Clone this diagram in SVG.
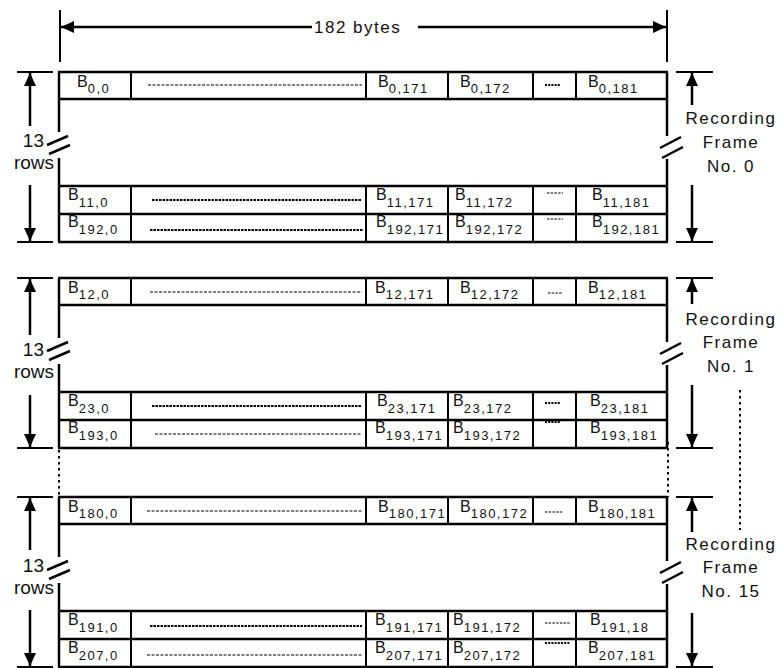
<svg xmlns="http://www.w3.org/2000/svg" width="780" height="668" viewBox="0 0 780 668">
<style>
  text { font-family: "Liberation Sans", Arial, sans-serif; fill: #111; }
  .c { font-size: 16px; }
  .s { font-size: 13px; letter-spacing: 1.5px; }
  .lbl { font-size: 17px; letter-spacing: 1.5px; text-anchor: middle; }
  .lft { font-size: 19px; text-anchor: end; }
  .big { font-size: 17px; letter-spacing: 1.5px; }
  .h { stroke-width: 2.5; }
  .v { stroke-width: 2.5; }
  .d { stroke-width: 2; }
  .brk { stroke-width: 2.5; }
  .fillthin { stroke: #000; stroke-width: 1; stroke-dasharray: 3 1.5; }
  .fillbold { stroke: #000; stroke-width: 1.8; stroke-dasharray: 2.5 1; }
  .dash { stroke: #000; stroke-width: 1; stroke-dasharray: 2.5 1.2; }
  .dots { stroke: #000; stroke-width: 2; stroke-dasharray: 2 1.2; }
  .conn line { stroke: #000; }
  .shaft { stroke-width: 2.5; }
  .tick { stroke-width: 2; }
  .dotv { stroke: #000; stroke-width: 2; stroke-dasharray: 2.5 3.5; fill: none; }
</style>
<defs>
  <marker id="ah" viewBox="0 0 13 12" refX="13" refY="6" markerWidth="13" markerHeight="12" markerUnits="userSpaceOnUse" orient="auto">
    <path d="M0,0 L13,6 L0,12 Z" fill="#000"/>
  </marker>
  <g id="grid" stroke="#000" fill="none">
    <line stroke-width="2.5" x1="58" y1="0" x2="668" y2="0"/>
    <line stroke-width="2.5" x1="58" y1="27" x2="668" y2="27"/>
    <line stroke-width="2.5" x1="58" y1="114" x2="668" y2="114"/>
    <line stroke-width="2.5" x1="58" y1="142" x2="668" y2="142"/>
    <line stroke-width="2.5" x1="58" y1="170" x2="668" y2="170"/>
    <line stroke-width="2.5" x1="59" y1="0" x2="59" y2="60"/>
    <line stroke-width="2.5" x1="59" y1="86" x2="59" y2="170"/>
    <line stroke-width="2.5" x1="667" y1="0" x2="667" y2="64"/>
    <line stroke-width="2.5" x1="667" y1="87" x2="667" y2="170"/>
    <line stroke-width="2.5" x1="47" y1="73" x2="68" y2="64"/>
    <line stroke-width="2.5" x1="49" y1="82" x2="70" y2="73"/>
    <line stroke-width="2.5" x1="660" y1="76" x2="681" y2="65"/>
    <line stroke-width="2.5" x1="662" y1="86" x2="683" y2="75"/>
    <line stroke-width="2" x1="131" y1="0" x2="131" y2="27"/>
    <line stroke-width="2" x1="366" y1="0" x2="366" y2="27"/>
    <line stroke-width="2" x1="448" y1="0" x2="448" y2="27"/>
    <line stroke-width="2" x1="533" y1="0" x2="533" y2="27"/>
    <line stroke-width="2" x1="576" y1="0" x2="576" y2="27"/>
    <line stroke-width="2" x1="131" y1="114" x2="131" y2="170"/>
    <line stroke-width="2" x1="366" y1="114" x2="366" y2="170"/>
    <line stroke-width="2" x1="448" y1="114" x2="448" y2="170"/>
    <line stroke-width="2" x1="533" y1="114" x2="533" y2="170"/>
    <line stroke-width="2" x1="576" y1="114" x2="576" y2="170"/>
  </g>
</defs>

<!-- top dimension -->
<g id="width-dimension" class="conn">
  <line class="tick" x1="60" y1="10" x2="60" y2="62"/>
  <line class="tick" x1="667" y1="10" x2="667" y2="62"/>
  <line class="shaft" x1="312" y1="27" x2="61" y2="27" marker-end="url(#ah)"/>
  <line class="shaft" x1="418" y1="27" x2="666" y2="27" marker-end="url(#ah)"/>
  <text class="big" x="314" y="33">182 bytes</text>
</g>

<!-- Frame 0 -->
<g id="frame0" class="frame" transform="translate(0,72)">
  <use href="#grid"/>
  <line class="fillthin" x1="148" y1="13" x2="362" y2="13"/>
  <line class="fillbold" x1="152" y1="128" x2="362" y2="128"/>
  <line class="fillbold" x1="150" y1="158" x2="363" y2="158"/>
  <line class="dots" x1="545" y1="13" x2="560" y2="13"/>
  <line class="dash" x1="547" y1="121" x2="563" y2="121"/>
  <line class="dash" x1="547" y1="147" x2="563" y2="147"/>
  <text class="c" x="77" y="15">B<tspan class="s" dy="6">0,0</tspan></text>
  <text class="c" x="378" y="15">B<tspan class="s" dy="6">0,171</tspan></text>
  <text class="c" x="460" y="15">B<tspan class="s" dy="6">0,172</tspan></text>
  <text class="c" x="588" y="15">B<tspan class="s" dy="6">0,181</tspan></text>
  <text class="c" x="68" y="128">B<tspan class="s" dy="7">11,0</tspan></text>
  <text class="c" x="376" y="128">B<tspan class="s" dy="7">11,171</tspan></text>
  <text class="c" x="455" y="128">B<tspan class="s" dy="7">11,172</tspan></text>
  <text class="c" x="592" y="128">B<tspan class="s" dy="7">11,181</tspan></text>
  <text class="c" x="68" y="155">B<tspan class="s" dy="7">192,0</tspan></text>
  <text class="c" x="376" y="155">B<tspan class="s" dy="7">192,171</tspan></text>
  <text class="c" x="455" y="155">B<tspan class="s" dy="7">192,172</tspan></text>
  <text class="c" x="592" y="155">B<tspan class="s" dy="7">192,181</tspan></text>
  <text class="lft" x="44" y="75">13</text>
  <text class="lft" x="54" y="97">rows</text>
  <text class="lbl" x="731" y="52">Recording</text>
  <text class="lbl" x="731" y="76">Frame</text>
  <text class="lbl" x="731" y="100">No. 0</text>
</g>

<!-- Frame 1 -->
<g id="frame1" class="frame" transform="translate(0,278)">
  <use href="#grid"/>
  <line class="fillthin" x1="150" y1="14" x2="362" y2="14"/>
  <line class="fillbold" x1="152" y1="128" x2="362" y2="128"/>
  <line class="fillthin" x1="155" y1="156" x2="362" y2="156"/>
  <line class="dash" x1="548" y1="15" x2="563" y2="15"/>
  <line class="dots" x1="545" y1="125" x2="560" y2="125"/>
  <line class="dots" x1="545" y1="144" x2="560" y2="144"/>
  <text class="c" x="68" y="15">B<tspan class="s" dy="6">12,0</tspan></text>
  <text class="c" x="375" y="15">B<tspan class="s" dy="6">12,171</tspan></text>
  <text class="c" x="460" y="15">B<tspan class="s" dy="6">12,172</tspan></text>
  <text class="c" x="588" y="15">B<tspan class="s" dy="6">12,181</tspan></text>
  <text class="c" x="68" y="128">B<tspan class="s" dy="7">23,0</tspan></text>
  <text class="c" x="377" y="128">B<tspan class="s" dy="7">23,171</tspan></text>
  <text class="c" x="453" y="128">B<tspan class="s" dy="7">23,172</tspan></text>
  <text class="c" x="590" y="128">B<tspan class="s" dy="7">23,181</tspan></text>
  <text class="c" x="68" y="155">B<tspan class="s" dy="7">193,0</tspan></text>
  <text class="c" x="375" y="155">B<tspan class="s" dy="7">193,171</tspan></text>
  <text class="c" x="453" y="155">B<tspan class="s" dy="7">193,172</tspan></text>
  <text class="c" x="590" y="155">B<tspan class="s" dy="7">193,181</tspan></text>
  <text class="lft" x="44" y="78">13</text>
  <text class="lft" x="54" y="100">rows</text>
  <text class="lbl" x="731" y="47">Recording</text>
  <text class="lbl" x="731" y="70">Frame</text>
  <text class="lbl" x="731" y="94">No. 1</text>
</g>

<!-- Frame 15 -->
<g id="frame15" class="frame" transform="translate(0,497)">
  <use href="#grid"/>
  <line class="fillthin" x1="147" y1="14" x2="362" y2="14"/>
  <line class="fillbold" x1="150" y1="129" x2="362" y2="129"/>
  <line class="fillthin" x1="147" y1="158" x2="362" y2="158"/>
  <line class="dash" x1="545" y1="15" x2="563" y2="15"/>
  <line class="dash" x1="545" y1="126" x2="570" y2="126"/>
  <line class="dots" x1="545" y1="146" x2="570" y2="146"/>
  <text class="c" x="68" y="15">B<tspan class="s" dy="6">180,0</tspan></text>
  <text class="c" x="378" y="15">B<tspan class="s" dy="6">180,171</tspan></text>
  <text class="c" x="460" y="15">B<tspan class="s" dy="6">180,172</tspan></text>
  <text class="c" x="588" y="15">B<tspan class="s" dy="6">180,181</tspan></text>
  <text class="c" x="68" y="128">B<tspan class="s" dy="7">191,0</tspan></text>
  <text class="c" x="375" y="128">B<tspan class="s" dy="7">191,171</tspan></text>
  <text class="c" x="453" y="128">B<tspan class="s" dy="7">191,172</tspan></text>
  <text class="c" x="590" y="128">B<tspan class="s" dy="7">191,18</tspan></text>
  <text class="c" x="68" y="156">B<tspan class="s" dy="7">207,0</tspan></text>
  <text class="c" x="375" y="156">B<tspan class="s" dy="7">207,171</tspan></text>
  <text class="c" x="453" y="156">B<tspan class="s" dy="7">207,172</tspan></text>
  <text class="c" x="588" y="156">B<tspan class="s" dy="7">207,181</tspan></text>
  <text class="lft" x="44" y="75">13</text>
  <text class="lft" x="54" y="97">rows</text>
  <text class="lbl" x="731" y="53">Recording</text>
  <text class="lbl" x="731" y="76">Frame</text>
  <text class="lbl" x="731" y="100">No. 15</text>
</g>

<!-- connectors: row-count and frame dimension arrows -->
<g id="connectors" class="conn">
  <g transform="translate(0,72)">
    <line class="tick" x1="17" y1="0" x2="53" y2="0"/>
    <line class="tick" x1="17" y1="170" x2="53" y2="170"/>
    <line class="shaft" x1="30" y1="54" x2="30" y2="1" marker-end="url(#ah)"/>
    <line class="shaft" x1="30" y1="113" x2="30" y2="169" marker-end="url(#ah)"/>
    <line class="tick" x1="676" y1="0" x2="713" y2="0"/>
    <line class="tick" x1="676" y1="170" x2="713" y2="170"/>
    <line class="shaft" x1="692" y1="33" x2="692" y2="1" marker-end="url(#ah)"/>
    <line class="shaft" x1="692" y1="113" x2="692" y2="169" marker-end="url(#ah)"/>
  </g>
  <g transform="translate(0,278)">
    <line class="tick" x1="17" y1="0" x2="53" y2="0"/>
    <line class="tick" x1="17" y1="170" x2="53" y2="170"/>
    <line class="shaft" x1="30" y1="57" x2="30" y2="1" marker-end="url(#ah)"/>
    <line class="shaft" x1="30" y1="117" x2="30" y2="169" marker-end="url(#ah)"/>
    <line class="tick" x1="676" y1="0" x2="713" y2="0"/>
    <line class="tick" x1="676" y1="170" x2="713" y2="170"/>
    <line class="shaft" x1="692" y1="26" x2="692" y2="1" marker-end="url(#ah)"/>
    <line class="shaft" x1="692" y1="107" x2="692" y2="169" marker-end="url(#ah)"/>
  </g>
  <g transform="translate(0,497)">
    <line class="tick" x1="17" y1="0" x2="53" y2="0"/>
    <line class="tick" x1="17" y1="170" x2="53" y2="170"/>
    <line class="shaft" x1="30" y1="53" x2="30" y2="1" marker-end="url(#ah)"/>
    <line class="shaft" x1="30" y1="113" x2="30" y2="169" marker-end="url(#ah)"/>
    <line class="tick" x1="676" y1="0" x2="713" y2="0"/>
    <line class="tick" x1="676" y1="170" x2="713" y2="170"/>
    <line class="shaft" x1="692" y1="35" x2="692" y2="1" marker-end="url(#ah)"/>
    <line class="shaft" x1="692" y1="116" x2="692" y2="169" marker-end="url(#ah)"/>
  </g>
  <line class="dotv" x1="59" y1="450" x2="59" y2="497"/>
  <line class="dotv" x1="668" y1="442" x2="668" y2="497"/>
  <line class="dotv" x1="740" y1="390" x2="740" y2="530"/>
</g>
</svg>
